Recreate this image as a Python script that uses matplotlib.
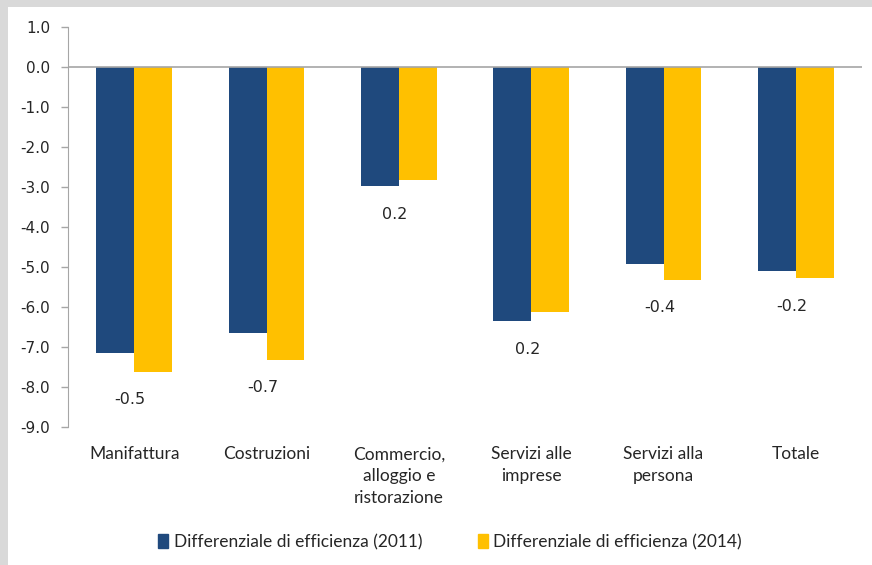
import matplotlib
matplotlib.use("Agg")
import matplotlib.pyplot as plt
from matplotlib.patches import Rectangle, Patch
from matplotlib import font_manager
import numpy as np

# data
categories = ["Manifattura", "Costruzioni", "Commercio,\nalloggio e\nristorazione",
              "Servizi alle\nimprese", "Servizi alla\npersona", "Totale"]
eff_2011 = [-7.14, -6.66, -2.98, -6.36, -4.92, -5.10]
eff_2014 = [-7.62, -7.32, -2.83, -6.12, -5.32, -5.28]
diff_labels = ["-0.5", "-0.7", "0.2", "0.2", "-0.4", "-0.2"]
yticks = [1.0, 0.0, -1.0, -2.0, -3.0, -4.0, -5.0, -6.0, -7.0, -8.0, -9.0]

navy = "#1F497D"
gold = "#FFC000"
grey = "#A6A6A6"
txt = "#262626"

names = {f.name for f in font_manager.fontManager.ttflist}
narrow = "Liberation Sans Narrow" if "Liberation Sans Narrow" in names else "Lato"
plt.rcParams['font.family'] = [narrow, 'DejaVu Sans']

fig = plt.figure(figsize=(8.72, 5.65), dpi=100)
fig.patch.set_facecolor("#D9D9D9")
# white chart area inside the grey frame
fig.patches.append(Rectangle((8/872, 0), 1, 1 - 7/565, transform=fig.transFigure,
                             facecolor="white", edgecolor="none", zorder=-5))

ax = fig.add_axes([68/872, 1 - 427/565, (862 - 68)/872, 400/565])
ax.set_facecolor("none")
ax.set_zorder(2)

x = np.arange(len(categories))
w = 0.287
ax.bar(x - w/2, eff_2011, w, color=navy, zorder=2)
ax.bar(x + w/2, eff_2014, w, color=gold, zorder=2)

# difference labels under each group
for i, lab in enumerate(diff_labels):
    ly = min(eff_2011[i], eff_2014[i]) - 0.7
    ax.text(x[i] - 0.03, ly, lab, ha="center", va="center", fontsize=11.5,
            color=txt, family=['DejaVu Sans'])

ax.set_xlim(-0.5, len(categories) - 0.5)
ax.set_ylim(-9, 1)
ax.set_yticks(yticks)
ax.set_yticklabels(["%.1f" % v for v in yticks], family=['DejaVu Sans'])
ax.tick_params(axis="y", colors=grey, labelcolor=txt, labelsize=11, length=5, width=1, pad=8)
ax.set_xticks(x)
ax.set_xticklabels(categories, fontsize=12.5, color=txt, linespacing=1.45)
ax.tick_params(axis="x", length=0, pad=14)
for t in ax.get_xticklabels():
    t.set_verticalalignment("top")

for s in ["top", "right", "bottom"]:
    ax.spines[s].set_visible(False)
ax.spines["left"].set_color(grey)
ax.axhline(0, color=grey, lw=1.2, zorder=3)

handles = [Patch(color=navy, label="Differenziale di efficienza (2011)"),
           Patch(color=gold, label="Differenziale di efficienza (2014)")]
fig.legend(handles=handles, loc="center", bbox_to_anchor=(450/872, 1 - 542/565),
           ncol=2, frameon=False, fontsize=12.5, handlelength=0.6, handleheight=0.9,
           handletextpad=0.3, columnspacing=3.2, labelcolor=txt)

fig.savefig("out.png", dpi=100, facecolor=fig.get_facecolor())
